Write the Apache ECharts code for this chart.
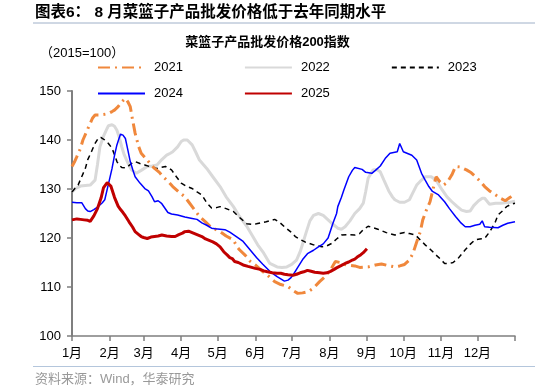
<!DOCTYPE html>
<html>
<head>
<meta charset="utf-8">
<script src="https://cdn.jsdelivr.net/npm/echarts@6/dist/echarts.min.js"></script>
<style>html,body{margin:0;padding:0;background:#fff}#c{width:535px;height:392px}</style>
</head>
<body>
<div id="c"></div>
<script>
// Month tick positions (day of year) and labels
const monthStarts = [0, 31, 59, 90, 120, 151, 181, 212, 243, 273, 304, 334];
const monthLabels = ['1月','2月','3月','4月','5月','6月','7月','8月','9月','10月','11月','12月'];
const yearEnd = 365;
const yTicks = [100, 110, 120, 130, 140, 150];
const legendRow1 = ['2021', '2022', '2023'];
const legendRow2 = ['2024', '2025'];

// [day of year, index value]
const s2021 = [[0,134.6],[2,135.5],[4,136.6],[7,138.3],[9,140],[12,141.7],[15,143.4],[17,144.5],[19,145.1],[23,145.1],[26,145.2],[30,145.4],[33,145.8],[35,146.1],[38,146.8],[41,147.8],[44,148.5],[45,148.5],[46,147.8],[48,146.8],[50,144],[52,141.4],[55,138.6],[57,137.3],[62,135.9],[65,135],[68,134.2],[72,133.4],[75,132.5],[79,131.6],[83,130.5],[88,129.4],[93,128.4],[96,127.4],[99,126.4],[102,125.4],[105,124.4],[110,123.3],[114,122.3],[118,121.8],[122,121.3],[127,120.4],[133,119.6],[136,118.2],[138,117.6],[143,116.4],[147,115.2],[151,114.5],[157,113.2],[162,112.2],[167,111.1],[172,110.5],[178,110.1],[182,109.3],[186,108.7],[190,108.8],[195,109.1],[199,109.8],[204,111.1],[208,112],[213,113.5],[217,115.2],[221,115],[225,114.6],[229,114.4],[233,114.3],[237,114],[244,114.1],[250,114.5],[255,114.7],[260,114.4],[266,114.1],[270,114.3],[274,114.6],[278,115.5],[281,116.9],[284,119.2],[287,121.3],[289,123.7],[292,125.7],[295,127.4],[298,130.5],[300,132.5],[303,131.5],[306,130.8],[309,131.3],[313,132.9],[316,134.6],[320,134.5],[325,133.9],[329,133.3],[333,132.4],[337,131.4],[340,130.5],[344,129.6],[349,128.8],[353,128.1],[357,127.6],[361,128.3],[365,129.1]];

const s2022 = [[0,129.4],[3,130.1],[7,130.6],[11,130.7],[15,130.8],[19,131.8],[21,135],[23,138.6],[26,140.8],[29,142.4],[30,142.9],[33,143.1],[35,142.8],[37,142],[39,140.5],[41,138.6],[43,137],[45,135.9],[47,134.8],[49,133.9],[53,133.2],[57,133.8],[62,134.6],[66,134.7],[70,134.9],[74,136],[78,136.9],[81,137.3],[83,137.6],[87,138.6],[90,139.7],[92,140],[95,140],[96,139.7],[99,139],[102,137.5],[105,135.9],[111,134.2],[116,132.5],[122,130.5],[127,128.4],[133,126.4],[138,124.4],[144,122.4],[149,120.3],[153,118.6],[158,116.9],[163,114.8],[169,114.1],[173,114],[177,114.1],[181,114.6],[185,115.5],[188,117.2],[191,119.6],[193,121.2],[196,123.5],[199,124.6],[203,125],[207,124.6],[211,123.7],[215,122.8],[219,122],[222,121.8],[225,122.3],[229,123.5],[233,125],[237,126],[240,127.1],[242,129.5],[244,132.2],[248,133.9],[251,134],[254,133.5],[257,131.8],[261,129.6],[264,128.4],[266,127.8],[270,127.3],[274,127.3],[278,127.8],[281,129.3],[284,130.8],[287,131.6],[291,132.5],[296,132.5],[300,131.8],[305,129.8],[309,128.4],[313,127.4],[317,126.5],[321,125.7],[325,125.4],[328,125.5],[331,126.6],[335,127.6],[338,128.1],[340,128.1],[344,126.9],[349,127.1],[353,127.1],[357,127.2],[361,127.3],[365,127.5]];

const s2023 = [[0,129.4],[2,130],[5,130.8],[8,132.5],[11,134.2],[13,136],[16,137.6],[19,139.3],[22,140.5],[24,140.5],[27,140],[30,139.3],[33,138.3],[35,137],[37,135.6],[39,134.8],[41,134.4],[44,134.3],[46,134.6],[49,135.2],[52,135.6],[56,135.2],[60,134.9],[65,134.5],[70,134.2],[73,134.4],[77,134.6],[82,133.9],[86,132.5],[90,131.2],[94,130.6],[99,130.1],[103,129.4],[107,128.8],[111,127.2],[115,126.1],[119,126.2],[122,126.4],[127,126],[133,125.4],[138,124.2],[144,122.9],[148,122.8],[152,122.9],[156,123.1],[160,123.3],[167,123.8],[171,123.2],[175,122.3],[180,121.3],[184,120.3],[188,119.7],[192,119.2],[199,118.6],[206,118.2],[210,118.4],[214,118.9],[218,119.8],[222,120.6],[227,120.7],[233,120.6],[237,120.9],[240,121.7],[244,122.4],[248,122.1],[252,121.8],[259,121.1],[266,120.6],[270,120.9],[274,121.1],[278,120.9],[283,120.6],[287,119.6],[291,118.6],[296,117.5],[300,116.5],[304,115.6],[307,114.8],[311,114.8],[314,115],[318,115.8],[324,117.6],[328,118.7],[332,119.6],[336,119.8],[340,119.9],[343,120.9],[346,122],[349,123.4],[351,124.7],[355,125.6],[358,126.4],[362,126.9],[365,127.1]];

const s2024 = [[0,127.3],[4,127.2],[8,127.2],[11,126],[13,125.5],[15,125.4],[18,125.8],[21,126.3],[25,127.2],[27,127.8],[30,131],[33,134.2],[35,136.8],[37,139],[39,140.5],[40,141.2],[42,141],[44,140.3],[46,138],[48,135.6],[50,134],[52,132.5],[56,131.2],[60,130.1],[63,129.6],[66,128.4],[68,127.4],[71,127.6],[74,127],[79,125.2],[82,124.9],[87,124.7],[93,124.3],[99,124],[103,123.8],[107,123.1],[111,122.6],[115,122],[118,121.9],[122,121.8],[126,121.7],[130,121.2],[136,120.2],[141,119.3],[147,117.5],[152,116],[157,114.7],[163,113.2],[169,112.1],[175,111.2],[178,111.4],[180,111.8],[182,112.4],[186,114],[190,115.6],[194,116.8],[199,117.5],[203,118.2],[207,118.8],[211,120],[215,123],[218,125],[219,126.4],[222,128.3],[224,129.8],[228,132.5],[231,133.8],[233,134.4],[239,134],[242,133.4],[247,133.2],[250,133.8],[254,134.7],[258,136.2],[262,137.3],[268,137.6],[270,139.3],[273,137.6],[277,137.2],[280,136.9],[284,135.9],[288,133.2],[291,131.8],[294,130.5],[297,129.5],[302,128.8],[307,127.4],[311,126],[316,124.4],[320,123.2],[324,122.3],[328,122.3],[332,122.6],[336,122.8],[338,123.5],[340,122.3],[344,122.2],[351,122.1],[355,122.6],[359,123],[365,123.3]];

const s2025 = [[0,123.7],[4,123.9],[7,123.8],[10,123.7],[13,123.6],[15,123.4],[18,124.5],[21,126],[24,128.2],[26,130.3],[29,131.3],[32,130.6],[35,128.3],[38,126.5],[40,125.8],[42,125.2],[44,124.5],[47,123.3],[50,122.2],[52,121.3],[55,120.7],[57,120.3],[59,120.1],[62,119.9],[65,120.2],[68,120.3],[71,120.4],[74,120.6],[78,120.4],[82,120.3],[85,120.3],[88,120.7],[91,121],[93,121.3],[96,121.4],[98,121.2],[100,121],[104,120.6],[107,120.3],[110,119.8],[113,119.5],[116,119.2],[119,118.8],[122,118.2],[125,117.2],[128,116.5],[130,116],[132,115.8],[134,115.2],[137,115],[141,114.5],[145,114.2],[148,114],[151,113.8],[155,113.6],[158,113.3],[161,113.1],[165,112.9],[169,112.8],[172,112.8],[175,112.6],[178,112.5],[182,112.4],[185,112.6],[188,112.9],[191,113.1],[194,113.4],[197,113.2],[200,113],[204,112.9],[207,112.8],[210,112.9],[213,113.2],[216,113.6],[218,113.9],[222,114.4],[225,114.8],[228,115.1],[231,115.5],[233,115.7],[235,116.1],[238,116.6],[240,117],[243,117.8]];

const FONT = '"Liberation Sans", Arial, "Noto Sans CJK SC", sans-serif';

const chart = echarts.init(document.getElementById('c'), null, {renderer: 'canvas'});
const legendCommon = {
  orient: 'horizontal',
  left: 97,
  itemWidth: 47,
  itemHeight: 10,
  itemGap: 61,
  itemStyle: {opacity: 0, borderWidth: 0},
  textStyle: {fontFamily: FONT, fontSize: 13, color: '#000', padding: [0, 0, 0, 4]},
  padding: 0
};

function lineSeries(name, data, color, width, type, z) {
  return {
    name: name,
    type: 'line',
    data: data,
    symbol: 'none',
    showSymbol: false,
    smooth: false,
    z: z,
    lineStyle: {color: color, width: width, type: type, cap: 'butt'},
    itemStyle: {color: color},
    emphasis: {disabled: true},
    animation: false
  };
}

chart.setOption({
  animation: false,
  title: [
    {text: '图表6： 8 月菜篮子产品批发价格低于去年同期水平', left: 35, top: 5, padding: 0,
     textStyle: {fontFamily: FONT, fontSize: 15.5, fontWeight: 'bold', color: '#000'}},
    {text: '菜篮子产品批发价格200指数', left: 'center', top: 36, padding: 0,
     textStyle: {fontFamily: FONT, fontSize: 13, fontWeight: 'bold', color: '#000'}},
    {text: '（2015=100）', left: 40, top: 47, padding: 0,
     textStyle: {fontFamily: FONT, fontSize: 13, fontWeight: 'normal', color: '#000'}}
  ],
  legend: [
    Object.assign({}, legendCommon, {top: 61, data: legendRow1}),
    Object.assign({}, legendCommon, {top: 87, data: legendRow2})
  ],
  graphic: [
    {type: 'line', shape: {x1: 33, y1: 23, x2: 535, y2: 23}, style: {stroke: '#9fb0c8', lineWidth: 1}, silent: true},
    {type: 'line', shape: {x1: 33, y1: 366.5, x2: 535, y2: 366.5}, style: {stroke: '#b4c6dc', lineWidth: 1}, silent: true},
    {type: 'text', left: 35, top: 373, style: {text: '资料来源：Wind，华泰研究', font: '13px ' + FONT, fill: '#999999'}, silent: true}
  ],
  grid: {left: 72, right: 20, top: 91, bottom: 56, containLabel: false},
  xAxis: {
    type: 'value',
    min: 0,
    max: yearEnd,
    splitLine: {show: false},
    axisLine: {show: true, onZero: false, lineStyle: {color: '#7f7f7f', width: 1.5}},
    axisTick: {show: true, length: 5, inside: false, customValues: monthStarts.concat([yearEnd]), lineStyle: {color: '#7f7f7f', width: 1.5}},
    axisLabel: {
      show: true, margin: 11, customValues: monthStarts,
      fontFamily: FONT, fontSize: 13, color: '#000',
      formatter: function (v) { const i = monthStarts.indexOf(Math.round(v)); return i >= 0 ? monthLabels[i] : ''; }
    }
  },
  yAxis: {
    type: 'value',
    min: yTicks[0],
    max: yTicks[yTicks.length - 1],
    interval: 10,
    splitLine: {show: false},
    axisLine: {show: true, lineStyle: {color: '#7f7f7f', width: 2}},
    axisTick: {show: true, length: 5, lineStyle: {color: '#7f7f7f', width: 1.5}},
    axisLabel: {margin: 11, fontFamily: FONT, fontSize: 13, color: '#000'}
  },
  series: [
    lineSeries('2022', s2022, '#d9d9d9', 3, 'solid', 1),
    lineSeries('2023', s2023, '#000000', 1.5, [5, 4], 2),
    lineSeries('2021', s2021, '#f0883c', 3, [12, 5, 2, 5], 3),
    lineSeries('2024', s2024, '#0000ff', 1.5, 'solid', 4),
    lineSeries('2025', s2025, '#c00000', 3, 'solid', 5)
  ]
});
</script>
</body>
</html>
